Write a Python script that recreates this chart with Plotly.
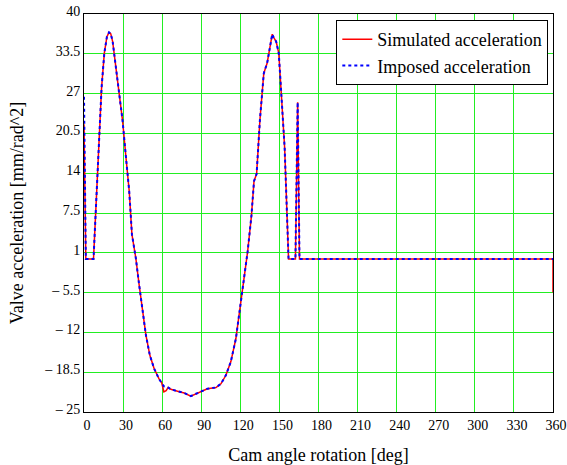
import plotly.graph_objects as go

# Cam angle [deg] and valve acceleration values
angle = [0, 1.4, 7.3, 10, 13.5, 15.6, 17.6, 19.2, 20.5, 22, 24.5, 27, 29.6, 32.2, 34.7,
         36.8, 39.8, 42.3, 44.9, 47.5, 50.5, 53.8, 57.6, 59.6, 61.3, 63, 64.6, 66.7,
         71.8, 76.9, 82, 87.1, 91, 94.7, 101.3, 105.1, 108.9, 112.7, 116.6, 119.2,
         121.8, 123.5, 125.6, 127.2, 128.5, 130.5, 132.5, 135, 138, 140.6, 142.5,
         144.5, 145.5, 147.5, 149.5, 152, 154, 156, 157, 162.3, 164, 165.4, 360, 360]

simulated = [22, 0, 0, 12, 28, 33.6, 36.3, 37, 36.8, 35.5, 31.3, 26.4, 22.6, 16.6, 11.1,
             4.0, 0.1, -4.2, -8.6, -12.4, -15.7, -17.9, -19.6, -20.2, -21.7, -21.5, -21.0, -21.3,
             -21.6, -21.9, -22.4, -21.9, -21.6, -21.2, -21.0, -20.4, -19.0, -16.8, -13.0, -9.2,
             -4.8, -2.1, 1.2, 4.4, 7.0, 12.7, 13.9, 22.6, 30.3, 32.0, 34.5,
             36.7, 36.2, 35.5, 33.6, 25.4, 18.2, 6.2, 0, 0, 25.6, 0, 0, -5.5]

imposed = [26.5, 0, 0, 12, 28, 33.6, 36.3, 37, 36.8, 35.5, 31.3, 26.4, 22.6, 16.6, 11.1,
           4.0, 0.1, -4.2, -8.6, -12.4, -15.7, -17.9, -19.6, -20.2, -20.8, -20.9, -21.0, -21.3,
           -21.6, -21.9, -22.4, -21.9, -21.6, -21.2, -21.0, -20.4, -19.0, -16.8, -13.0, -9.2,
           -4.8, -2.1, 1.2, 4.4, 7.0, 12.7, 13.9, 22.6, 30.3, 32.0, 34.5,
           36.7, 36.2, 35.5, 33.6, 25.4, 18.2, 6.2, 0, 0, 25.6, 0, 0, 0]

x_ticks = [0, 30, 60, 90, 120, 150, 180, 210, 240, 270, 300, 330, 360]
y_ticks = [-25, -18.5, -12, -5.5, 1, 7.5, 14, 20.5, 27, 33.5, 40]
y_tick_text = ["– 25", "– 18.5", "– 12", "– 5.5", "1", "7.5", "14", "20.5", "27", "33.5", "40"]

FONT = "Liberation Serif, Times New Roman, serif"
GRID = "#22ee22"

fig = go.Figure()
fig.add_trace(go.Scatter(x=angle, y=simulated, mode="lines", name="Simulated acceleration",
                         line=dict(color="#ff0000", width=1.5)))
fig.add_trace(go.Scatter(x=angle, y=imposed, mode="lines", name="Imposed acceleration",
                         line=dict(color="#0000ff", width=2, dash="dot")))

fig.update_layout(
    width=567, height=465,
    margin=dict(l=84, r=14, t=14, b=53),
    paper_bgcolor="white", plot_bgcolor="white",
    font=dict(family=FONT, size=14, color="black"),
    showlegend=True,
    legend=dict(x=0.99, y=0.985, xanchor="right", yanchor="top",
                bgcolor="white", bordercolor="black", borderwidth=1,
                font=dict(family=FONT, size=18, color="black"),
                tracegroupgap=0),
    xaxis=dict(range=[0, 360], tickvals=x_ticks, ticktext=[str(v) for v in x_ticks],
               showgrid=True, gridcolor=GRID, gridwidth=1, zeroline=False,
               showline=True, linecolor="black", linewidth=1, mirror=True,
               ticks="", ticklabelshift=3,
               tickfont=dict(family=FONT, size=14),
               title=dict(text="Cam angle rotation [deg]", font=dict(family=FONT, size=18),
                          standoff=27),
               automargin=False),
    yaxis=dict(range=[-25, 40], tickvals=y_ticks, ticktext=y_tick_text,
               showgrid=True, gridcolor=GRID, gridwidth=1, zeroline=False,
               showline=True, linecolor="black", linewidth=1, mirror=True,
               ticks="", ticklabelshift=-3,
               tickfont=dict(family=FONT, size=14),
               title=dict(text="Valve acceleration [mm/rad^2]", font=dict(family=FONT, size=18),
                          standoff=15),
               automargin=False),
)

fig.write_html("out.html", config={"displayModeBar": False},
               post_script="document.body.style.margin='0';")
